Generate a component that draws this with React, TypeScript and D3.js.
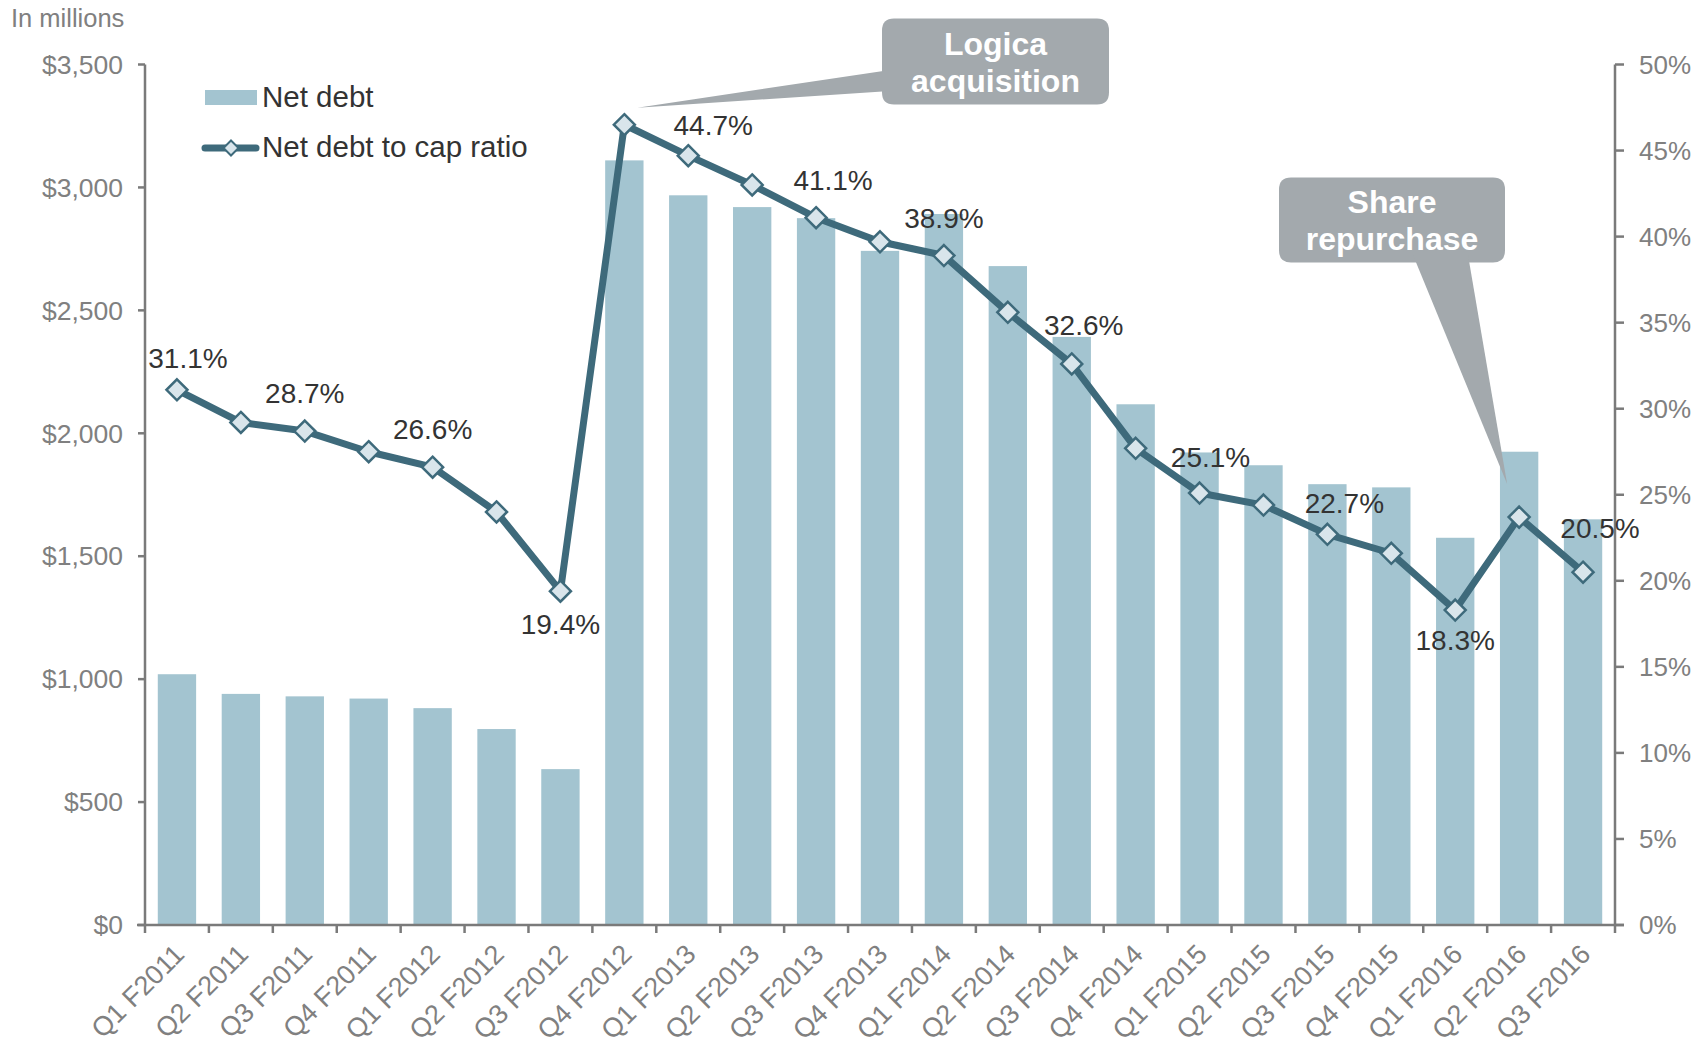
import React from "react";
import * as d3 from "d3";

// quarters on the x axis
const categories = [
  "Q1 F2011", "Q2 F2011", "Q3 F2011", "Q4 F2011",
  "Q1 F2012", "Q2 F2012", "Q3 F2012", "Q4 F2012",
  "Q1 F2013", "Q2 F2013", "Q3 F2013", "Q4 F2013",
  "Q1 F2014", "Q2 F2014", "Q3 F2014", "Q4 F2014",
  "Q1 F2015", "Q2 F2015", "Q3 F2015", "Q4 F2015",
  "Q1 F2016", "Q2 F2016", "Q3 F2016",
];

// net debt, $ millions
const netDebt = [
  1020, 940, 930, 921, 882, 797, 634, 3110, 2968, 2920, 2875, 2742,
  2892, 2680, 2392, 2118, 1922, 1870, 1793, 1780, 1575, 1925, 1650,
];

// net debt to cap ratio, %
const debtToCap = [
  31.1, 29.2, 28.7, 27.5, 26.6, 24.0, 19.4, 46.5, 44.7, 43.0, 41.1, 39.7,
  38.9, 35.6, 32.6, 27.7, 25.1, 24.4, 22.7, 21.6, 18.3, 23.7, 20.5,
];

const leftTicks = [0, 500, 1000, 1500, 2000, 2500, 3000, 3500];
const rightTicks = [0, 5, 10, 15, 20, 25, 30, 35, 40, 45, 50];

// which points carry a value label, and whether it sits under the marker
const labelled = [0, 2, 4, 6, 8, 10, 12, 14, 16, 18, 20, 22];
const below = [6, 20];

// small nudges so labels clear the line (dx, dy from marker centre)
const nudge: Record<number, [number, number]> = {
  0: [11, -32], 2: [0, -38], 4: [0, -38], 6: [0, 33], 8: [25, -31],
  10: [17, -37], 12: [0, -37], 14: [12, -39], 16: [11, -36],
  18: [17, -31], 20: [0, 30], 22: [17, -44],
};

const W = 1708;
const H = 1045;
const left = 145;
const right = 1615;
const top = 64.5;
const bottom = 925;

const FONT = "'Liberation Sans', Arial, Helvetica, sans-serif";
const BAR = "#a3c4d0";
const LINE = "#3e6a7b";
const MARK = "#d9e5eb";
const AXIS = "#7a7a7a";
const TICK_TXT = "#808080";
const TXT = "#333333";
const CALLOUT = "#a3a9ad";

const diamond = (cx: number, cy: number, r: number) =>
  `M${cx},${cy - r}L${cx + r},${cy}L${cx},${cy + r}L${cx - r},${cy}Z`;

const roundBox = (x: number, y: number, w: number, h: number, r: number) =>
  `M${x + r},${y}H${x + w - r}Q${x + w},${y} ${x + w},${y + r}V${y + h - r}Q${x + w},${y + h} ${x + w - r},${y + h}H${x + r}Q${x},${y + h} ${x},${y + h - r}V${y + r}Q${x},${y} ${x + r},${y}Z`;

const wedge = (pts: [number, number][]) =>
  "M" + pts.map((p) => p.join(",")).join("L") + "Z";

const App = () => {
  const x = d3
    .scaleBand<string>()
    .domain(categories)
    .range([left, right])
    .paddingInner(0.4)
    .paddingOuter(0.2);
  const step = x.step();
  const yL = d3.scaleLinear().domain([0, 3500]).range([bottom, top]);
  const yR = d3.scaleLinear().domain([0, 50]).range([bottom, top]);
  const cx = (i: number) => (x(categories[i]) as number) + x.bandwidth() / 2;

  const line = d3
    .line<number>()
    .x((_, i) => cx(i))
    .y((d) => yR(d));

  const fmtDollar = (v: number) => "$" + d3.format(",")(v);

  // callout tips anchored to the points they refer to
  const logicaTip: [number, number] = [cx(7) + 13, yR(debtToCap[7]) - 17];
  const shareTip: [number, number] = [cx(21) - 12, yR(debtToCap[21]) - 33];

  return (
    <svg
      width={W}
      height={H}
      style={{ position: "absolute", left: 0, top: 0, background: "#fff" }}
      fontFamily={FONT}
    >
      <text x={11} y={27} fontSize={25.5} fill={TICK_TXT}>
        In millions
      </text>

      {/* bars */}
      {netDebt.map((v, i) => (
        <rect
          key={categories[i]}
          x={x(categories[i])}
          y={yL(v)}
          width={x.bandwidth()}
          height={bottom - yL(v)}
          fill={BAR}
        />
      ))}

      {/* axes */}
      <g stroke={AXIS} strokeWidth={2.5} fill="none">
        <line x1={left} x2={left} y1={top} y2={bottom} />
        <line x1={right} x2={right} y1={top} y2={bottom} />
        <line x1={left - 8} x2={right + 9} y1={bottom} y2={bottom} />
        {leftTicks.map((t) => (
          <line key={"l" + t} x1={left - 7} x2={left} y1={yL(t)} y2={yL(t)} />
        ))}
        {rightTicks.map((t) => (
          <line key={"r" + t} x1={right} x2={right + 9} y1={yR(t)} y2={yR(t)} />
        ))}
        {d3.range(categories.length + 1).map((i) => (
          <line
            key={"b" + i}
            x1={left + step * i}
            x2={left + step * i}
            y1={bottom}
            y2={bottom + 8}
          />
        ))}
      </g>

      {leftTicks.map((t) => (
        <text
          key={"lt" + t}
          x={123}
          y={yL(t)}
          dy="0.35em"
          textAnchor="end"
          fontSize={26.5}
          fill={TICK_TXT}
        >
          {fmtDollar(t)}
        </text>
      ))}
      {rightTicks.map((t) => (
        <text
          key={"rt" + t}
          x={1639}
          y={yR(t)}
          dy="0.35em"
          fontSize={26}
          fill={TICK_TXT}
        >
          {t + "%"}
        </text>
      ))}
      {categories.map((c, i) => (
        <text
          key={"xt" + c}
          transform={`translate(${cx(i) + 9},${bottom + 31}) rotate(-45)`}
          textAnchor="end"
          fontSize={27}
          fill={TICK_TXT}
        >
          {c}
        </text>
      ))}

      {/* callouts */}
      <path d={roundBox(882, 18.5, 227, 86, 12)} fill={CALLOUT} />
      <path d={wedge([[890, 70], logicaTip, [890, 91]])} fill={CALLOUT} />
      <text textAnchor="middle" fontSize={32} fontWeight="bold" fill="#fff">
        <tspan x={995.5} y={55}>Logica</tspan>
        <tspan x={995.5} y={92}>acquisition</tspan>
      </text>

      <path d={roundBox(1279, 177.5, 226, 85, 12)} fill={CALLOUT} />
      <path d={wedge([[1413, 255], shareTip, [1468, 255]])} fill={CALLOUT} />
      <text textAnchor="middle" fontSize={32} fontWeight="bold" fill="#fff">
        <tspan x={1392} y={213}>Share</tspan>
        <tspan x={1392} y={250}>repurchase</tspan>
      </text>

      {/* ratio line */}
      <path
        d={line(debtToCap) || ""}
        fill="none"
        stroke={LINE}
        strokeWidth={7}
        strokeLinejoin="round"
      />
      {debtToCap.map((v, i) => (
        <path
          key={"m" + i}
          d={diamond(cx(i), yR(v), 10.5)}
          fill={MARK}
          stroke={LINE}
          strokeWidth={2.5}
        />
      ))}

      {labelled.map((i) => {
        const [dx, dy] = nudge[i] || [0, below.includes(i) ? 32 : -36];
        return (
          <text
            key={"lab" + i}
            x={cx(i) + dx}
            y={yR(debtToCap[i]) + dy}
            dy="0.35em"
            textAnchor="middle"
            fontSize={28}
            fill={TXT}
          >
            {d3.format(".1f")(debtToCap[i]) + "%"}
          </text>
        );
      })}

      {/* legend */}
      <rect x={205} y={90} width={52} height={15} fill={BAR} />
      <text x={262} y={107} fontSize={29.5} fill={TXT}>
        Net debt
      </text>
      <line
        x1={205}
        x2={256}
        y1={148}
        y2={148}
        stroke={LINE}
        strokeWidth={7}
        strokeLinecap="round"
      />
      <path d={diamond(231, 148, 7.5)} fill={MARK} stroke={LINE} strokeWidth={2} />
      <text x={262} y={157} fontSize={29.5} fill={TXT}>
        Net debt to cap ratio
      </text>
    </svg>
  );
};

export default App;
